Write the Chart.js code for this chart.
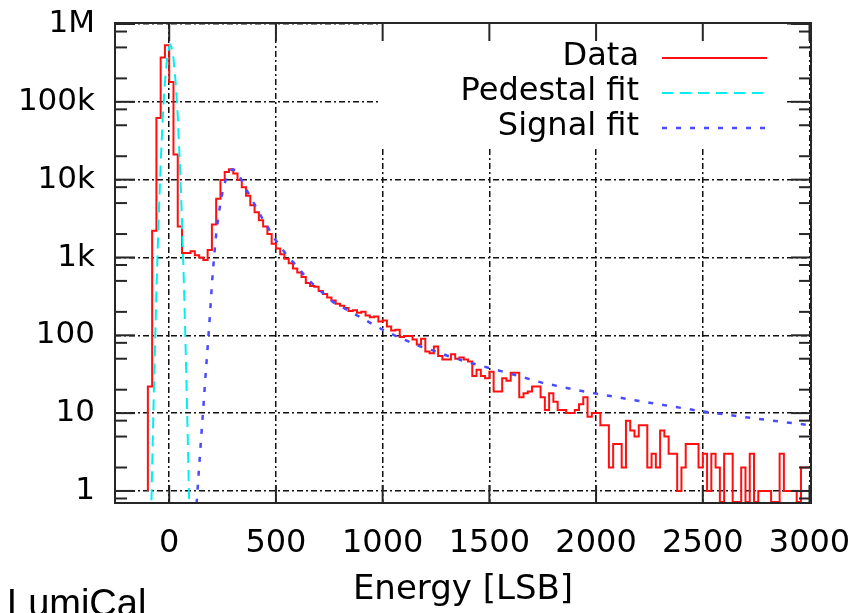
<!DOCTYPE html>
<html>
<head>
<meta charset="utf-8">
<script src="https://cdn.jsdelivr.net/npm/chart.js@4.4.1/dist/chart.umd.min.js"></script>
<style>
  html, body { margin: 0; padding: 0; background: #fff; }
  #wrap { width: 858px; height: 613px; }
</style>
</head>
<body>
<div id="wrap"><canvas id="spectrum"></canvas></div>
<script>
// histogram: bins of 20 LSB starting at -100
const binStart = -100;
const binWidth = 20;
const counts = [
  1, 22, 2200, 62000, 370000, 535000, 180000, 21000, 2500, 1140,
  1140, 1200, 1070, 1000, 930, 1250, 2650, 5700, 9900, 12500,
  13600, 12000, 9900, 8000, 6200, 4700, 3800, 3000, 2500, 2000,
  1500, 1300, 1100, 960, 840, 720, 640, 560, 470, 430,
  420, 370, 340, 305, 280, 255, 240, 225, 205, 210,
  195, 200, 180, 170, 175, 150, 155, 130, 115, 118,
  95, 98, 98, 88, 76, 90, 62, 59, 72, 54,
  49, 49, 57, 50, 52, 49, 46, 30, 36, 30,
  28, 34, 19, 19, 28, 26, 33, 33, 16, 18,
  19, 22, 22, 16, 11, 18, 14, 11, 11, 10,
  10, 11, 13, 16, 9, 10, 10, 7, 7, 2,
  4, 4, 2, 8, 6, 5, 7, 7, 2, 3,
  2, 6, 5, 3, 3, 1, 2, 4, 4, 4,
  2, 3, 1, 3, 2, 0, 3, 3, 0, 0,
  2, 0, 3, 0, 1, 1, 1, 0, 0, 3,
  1, 1, 1, 0, 2
];

const pedestalE   = [-90, -80, -70, -60, -50, -40, -30, -20, -10, 0, 5, 10, 20, 30, 40, 50, 60, 70, 80, 90, 100];
const pedestalFit = [0.09, 2, 32, 360, 2900, 16000, 65000, 180000, 360000, 510000, 537000, 510000, 360000, 180000, 65000, 16000, 2900, 360, 32, 2, 0.09];

const signalE   = [120, 130, 140, 150, 160, 170, 180, 190, 200, 210, 220, 230, 240, 250, 260, 270, 280, 290, 300, 310,
                   320, 330, 340, 360, 380, 400, 420, 440, 460, 480, 500, 550, 600, 650, 700, 770, 850, 900, 950, 1000,
                   1080, 1175, 1250, 1300, 1400, 1500, 1600, 1750, 1900, 2000, 2250, 2500, 2750, 3000];
const signalFit = [0.3, 0.8, 2, 5, 12, 30, 70, 170, 450, 1000, 2000, 3300, 5000, 7000, 9000, 11000, 12500, 13300, 13500, 13200,
                   12300, 11000, 9700, 7600, 6000, 4800, 3800, 3050, 2500, 2000, 1650, 1080, 760, 520, 390, 265, 200, 168, 140, 118,
                   93, 72, 62, 55, 45, 38, 32, 24.5, 20, 17.8, 13.6, 10.5, 8.5, 7];

const xTicks = [0, 500, 1000, 1500, 2000, 2500, 3000];
const yTicks = [1, 10, 100, 1000, 10000, 100000, 1000000];
const yTickLabels = ['1', '10', '100', '1k', '10k', '100k', '1M'];
const minorSteps = [2, 5, 8];
const yMin = 0.72, yMax = 1030000;

const seriesNames = ['Data', 'Pedestal fit', 'Signal fit'];

// empty bins drop to the bottom of the log axis, like gnuplot does
const histPoints = counts.map((c, i) => ({ x: binStart + i * binWidth, y: Math.max(c, yMin) }));
histPoints.push({ x: binStart + counts.length * binWidth, y: Math.max(counts[counts.length - 1], yMin) });

const FONT = 'DejaVu Sans';
const GRID_DASH = [6, 3, 2, 3];

function noOverhang(s) {
  s.paddingLeft = 0; s.paddingRight = 0; s.paddingTop = 0; s.paddingBottom = 0;
}

const frame = {
  id: 'frame',
  beforeDatasetsDraw(chart) {
    // opaque key box like gnuplot
    const ctx = chart.ctx;
    ctx.save();
    ctx.fillStyle = '#fff';
    ctx.fillRect(378, chart.chartArea.top + 1, 409, 124);
    ctx.restore();
  },
  afterDraw(chart) {
    const { ctx, chartArea: a, scales: { x, y } } = chart;
    ctx.save();
    ctx.strokeStyle = '#262626';
    ctx.lineWidth = 2;
    const seg = (x1, y1, x2, y2) => { ctx.beginPath(); ctx.moveTo(x1, y1); ctx.lineTo(x2, y2); ctx.stroke(); };

    xTicks.forEach(v => {
      const px = x.getPixelForValue(v);
      seg(px, a.bottom, px, a.bottom - 18);
      seg(px, a.top, px, a.top + 18);
    });
    const minorVals = [];
    yTicks.forEach(v => minorSteps.forEach(m => minorVals.push(v * m)));
    minorVals.push(0.8);
    minorVals.forEach(v => {
      if (v < y.min || v > y.max) return;
      const py = y.getPixelForValue(v);
      seg(a.left, py, a.left + 12, py);
      seg(a.right, py, a.right - 12, py);
    });
    yTicks.forEach(v => {
      const py = y.getPixelForValue(v);
      seg(a.left, py, a.left + 20, py);
      seg(a.right, py, a.right - 20, py);
    });
    ctx.strokeRect(a.left, a.top, a.right - a.left, a.bottom - a.top);

    // key
    ctx.font = '32px "' + FONT + '"';
    ctx.fillStyle = '#000';
    ctx.textAlign = 'right';
    ctx.textBaseline = 'middle';
    chart.data.datasets.forEach((ds, i) => {
      const ly = 57 + i * 35;
      ctx.fillText(seriesNames[i], 639, ly);
      ctx.save();
      ctx.strokeStyle = ds.borderColor;
      ctx.lineWidth = ds.borderWidth;
      ctx.setLineDash(ds.borderDash || []);
      seg(662, ly + 1, 767, ly + 1);
      ctx.restore();
    });

    // caption cut off at the bottom
    ctx.font = '38px "Liberation Sans"';
    ctx.textAlign = 'left';
    ctx.textBaseline = 'alphabetic';
    ctx.fillText('LumiCal', 7, 616);
    ctx.restore();
  }
};

new Chart(document.getElementById('spectrum'), {
  type: 'line',
  data: {
    datasets: [
      {
        label: seriesNames[0],
        data: histPoints,
        stepped: 'after',
        borderColor: '#ff1010',
        borderWidth: 2,
        pointRadius: 0,
        fill: false,
        order: 3
      },
      {
        label: seriesNames[1],
        data: pedestalE.map((e, i) => ({ x: e, y: pedestalFit[i] })),
        borderColor: '#00f0f0',
        borderWidth: 2,
        borderDash: [11, 7],
        pointRadius: 0,
        fill: false,
        order: 2
      },
      {
        label: seriesNames[2],
        data: signalE.map((e, i) => ({ x: e, y: signalFit[i] })),
        borderColor: '#4a4aff',
        borderWidth: 2.5,
        borderDash: [5, 9],
        pointRadius: 0,
        fill: false,
        order: 1
      }
    ]
  },
  options: {
    responsive: true,
    maintainAspectRatio: false,
    animation: false,
    layout: { padding: { top: 23, right: 47, left: 0, bottom: 0 } },
    plugins: {
      legend: { display: false },
      tooltip: { enabled: false }
    },
    scales: {
      x: {
        type: 'linear',
        min: -254,
        max: 3007,
        afterBuildTicks: s => { s.ticks = xTicks.map(v => ({ value: v })); },
        afterFit: s => { s.height = 110; noOverhang(s); },
        grid: { color: '#111', lineWidth: 1.5, drawTicks: false },
        border: { display: false, dash: GRID_DASH },
        ticks: {
          color: '#000',
          autoSkip: false,
          maxRotation: 0,
          padding: 21,
          font: { family: FONT, size: 32 },
          callback: (v) => String(v)
        },
        title: {
          display: true,
          text: 'Energy [LSB]',
          color: '#000',
          padding: { top: 0, bottom: 2 },
          font: { family: FONT, size: 34 }
        }
      },
      y: {
        type: 'logarithmic',
        min: yMin,
        max: yMax,
        afterBuildTicks: s => { s.ticks = yTicks.map(v => ({ value: v })); },
        afterFit: s => { s.width = 115; noOverhang(s); },
        grid: { color: '#111', lineWidth: 1.5, drawTicks: false },
        border: { display: false, dash: GRID_DASH },
        ticks: {
          color: '#000',
          padding: 20,
          font: { family: FONT, size: 31 },
          callback: (v) => yTickLabels[yTicks.indexOf(v)]
        }
      }
    }
  },
  plugins: [frame]
});
</script>
</body>
</html>
